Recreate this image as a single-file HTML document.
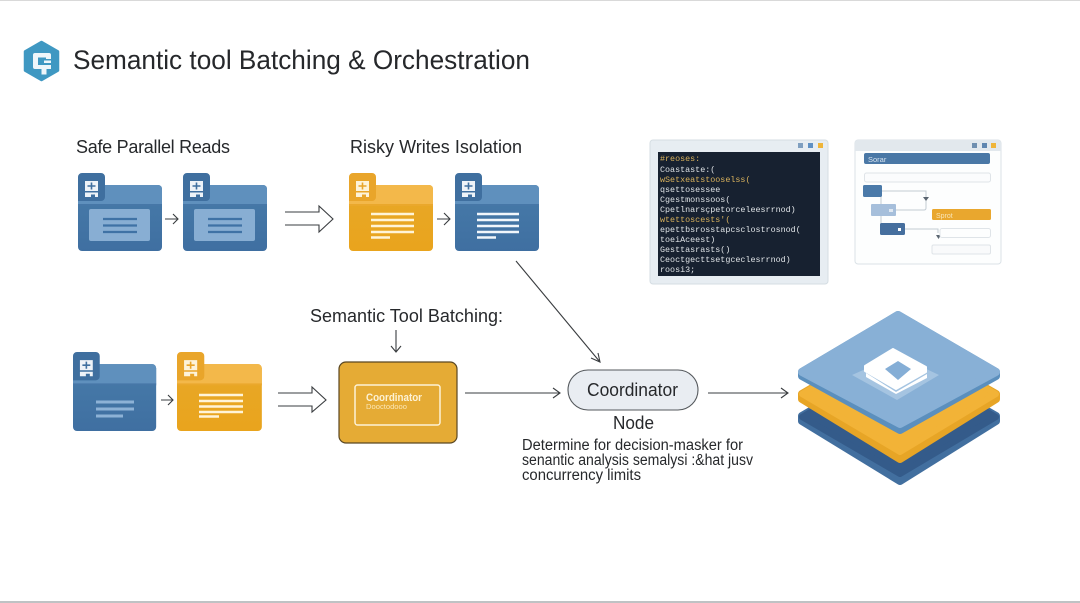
<!DOCTYPE html>
<html lang="en"><head><meta charset="utf-8"><title>Semantic tool Batching &amp; Orchestration</title>
<style>
html,body{margin:0;padding:0;background:#fff;width:1080px;height:603px;overflow:hidden}
svg{display:block;filter:blur(.3px)}
text{font-family:"Liberation Sans",sans-serif;fill:#26282b}
.m{font-family:"Liberation Mono",monospace;font-size:8.4px;fill:#dfe3e6}
.y{fill:#d9b25c}
.ln{stroke:#3a3d40;stroke-width:1.1;fill:none}
.r{stroke-width:8;stroke-linejoin:round}
</style></head><body>
<svg width="1080" height="603" viewBox="0 0 1080 603" xmlns="http://www.w3.org/2000/svg">
<defs>
<linearGradient id="b" x1="0" y1="0" x2="0" y2="1"><stop offset="0" stop-color="#477ba9"/><stop offset="1" stop-color="#3f6fa1"/></linearGradient>
<linearGradient id="a" x1="0" y1="0" x2="0" y2="1"><stop offset="0" stop-color="#e8a828"/><stop offset="1" stop-color="#e9a41d"/></linearGradient>
<g id="blue">
<rect x="0" y="12" width="84" height="66" rx="4" fill="url(#b)"/>
<path d="M0 32V16a4 4 0 0 1 4-4H80a4 4 0 0 1 4 4V32Z" fill="#5f90bd"/>
<path d="M0 32V4a4 4 0 0 1 4-4H23a4 4 0 0 1 4 4V24a4 4 0 0 1-4 4H0Z" fill="#3f6f9f"/>
<rect x="0" y="31" width="84" height="2" fill="#4677a7"/>
<path d="M7 8H20V18H7Z M7 19.500H20V24H17V21.500H13V24H7Z" fill="#eef3f8"/>
<path d="M13.500 9.500V16.500M9.500 13H17.500" stroke="#3f6f9f" stroke-width="1.6"/>
</g>
<g id="amber">
<rect x="0" y="12" width="84" height="66" rx="4" fill="url(#a)"/>
<path d="M0 32V16a4 4 0 0 1 4-4H80a4 4 0 0 1 4 4V32Z" fill="#f3b84a"/>
<path d="M0 32V4a4 4 0 0 1 4-4H23a4 4 0 0 1 4 4V24a4 4 0 0 1-4 4H0Z" fill="#e9a52a"/>
<rect x="0" y="31" width="84" height="2" fill="#eaa82c"/>
<path d="M7 8H20V18H7Z M7 19.500H20V24H17V21.500H13V24H7Z" fill="#fdf3da"/>
<path d="M13.500 9.500V16.500M9.500 13H17.500" stroke="#e9a52a" stroke-width="1.6"/>
</g>
</defs>
<rect width="1080" height="603" fill="#fff"/>
<rect width="1080" height="1" fill="#d9d9d9"/>
<rect y="601" width="1080" height="2" fill="#bfc2c4"/>

<!-- logo -->
<path d="M41.5 42 L58 51.500V70.500L41.5 80 25 70.500V51.500Z" fill="#3f98c2" stroke="#3f98c2" stroke-width="2.500" stroke-linejoin="round"/>
<path d="M35 53H49a2 2 0 0 1 2 2V59H46V57.500H38V65H51V69H46.500V74.500H41.500V69H35a2 2 0 0 1-2-2V55a2 2 0 0 1 2-2Z" fill="#eef6fa"/>
<rect x="44" y="60.500" width="7" height="2.500" fill="#eef6fa"/>

<text x="73" y="69" font-size="27" textLength="457" lengthAdjust="spacingAndGlyphs">Semantic tool Batching &amp; Orchestration</text>
<text x="76" y="153" font-size="18" textLength="154" lengthAdjust="spacing">Safe Parallel Reads</text>
<text x="350" y="153" font-size="18" textLength="172" lengthAdjust="spacing">Risky Writes Isolation</text>
<text x="310" y="322" font-size="18" textLength="193" lengthAdjust="spacing">Semantic Tool Batching:</text>

<!-- top row -->
<use href="#blue" x="78" y="173"/>
<rect x="89" y="209" width="61" height="32" rx="2" fill="#88aed3"/>
<path d="M103 219H137M103 225.500H137M103 232H137" stroke="#3f72a5" stroke-width="2.200"/>
<use href="#blue" x="183" y="173"/>
<rect x="194" y="209" width="61" height="32" rx="2" fill="#88aed3"/>
<path d="M208 219H242M208 225.500H242M208 232H242" stroke="#3f72a5" stroke-width="2.200"/>
<path class="ln" d="M165 219H178M173 214l5 5-5 5"/>
<path class="ln" d="M285 212H319V206L333 219 319 232V225H285"/>

<use href="#amber" x="349" y="173"/>
<path d="M371 214H414M371 220H414M371 226H414M371 232H414M371 237.500H390" stroke="#fff4d8" stroke-width="2.400"/>
<use href="#blue" x="455" y="173"/>
<path d="M477 214H519M477 220H519M477 226H519M477 232H519M477 237.500H496" stroke="#f1f6fb" stroke-width="2.400"/>
<path class="ln" d="M437 219H450M444 213l6 6-6 6"/>

<!-- bottom row -->
<use href="#blue" transform="translate(73 352) scale(.99 1.013)"/>
<path d="M96 402H134M96 409H134M96 416H123" stroke="#8db2d6" stroke-width="3"/>
<use href="#amber" transform="translate(177 352) scale(1.01 1.013)"/>
<path d="M199 395H243M199 401H243M199 406.500H243M199 412H243M199 416.500H219" stroke="#fff4d8" stroke-width="2.400"/>
<path class="ln" d="M161 400H173M168 395l5 5-5 5"/>
<path class="ln" d="M278 393H312V387L326 400 312 412V406H278"/>

<!-- coordinator box -->
<path class="ln" d="M396 330V352M391 346l5 6 5-6"/>
<rect x="339" y="362" width="118" height="81" rx="7" fill="#e5ab35" stroke="#5a4722" stroke-width="1.200"/>
<rect x="355" y="385" width="85" height="40" rx="2.500" fill="none" stroke="#fdf2d5" stroke-width="1.500"/>
<text x="366" y="401" font-size="11" font-weight="bold" style="fill:#fdf2d5" textLength="56" lengthAdjust="spacingAndGlyphs">Coordinator</text>
<text x="366" y="409" font-size="7.500" style="fill:#fbe7b6" textLength="41" lengthAdjust="spacingAndGlyphs">Dooctodooo</text>

<!-- connectors -->
<path class="ln" d="M465 393H560M553 388l7 5-7 5"/>
<path class="ln" d="M516 261L600 362M591 358l9 4-2-9"/>
<path class="ln" d="M708 393H788M781 388l7 5-7 5"/>

<!-- node -->
<rect x="568" y="370" width="130" height="40" rx="20" fill="#e9edf2" stroke="#55595d" stroke-width="1.100"/>
<text x="587" y="396" font-size="18" textLength="91" lengthAdjust="spacingAndGlyphs">Coordinator</text>
<text x="613" y="429" font-size="18" textLength="41" lengthAdjust="spacingAndGlyphs">Node</text>
<text x="522" y="450" font-size="15.500" textLength="221" lengthAdjust="spacingAndGlyphs">Determine for decision-masker for</text>
<text x="522" y="465" font-size="15.500" textLength="231" lengthAdjust="spacingAndGlyphs">senantic analysis semalysi :&amp;hat jusv</text>
<text x="522" y="480" font-size="15.500" textLength="119" lengthAdjust="spacingAndGlyphs">concurrency limits</text>

<!-- code window -->
<rect x="650" y="140" width="178" height="144" rx="3" fill="#e7edf2" stroke="#d5dde3"/>
<rect x="798" y="143" width="5" height="5" fill="#7f9fc0"/><rect x="808" y="143" width="5" height="5" fill="#5f90c4"/><rect x="818" y="143" width="5" height="5" fill="#efb53a"/>
<rect x="658" y="152" width="162" height="124" fill="#172130"/>
<text class="m y" x="660" y="161">#reoses:</text>
<text class="m" x="660" y="172">Coastaste:(</text>
<text class="m y" x="660" y="182">wSetxeatstooselss(</text>
<text class="m" x="660" y="192">qsettosessee</text>
<text class="m" x="660" y="202">Cgestmonssoos(</text>
<text class="m" x="660" y="212">Cpetlnarsçpetorceleesrrnod)</text>
<text class="m y" x="660" y="222">wtettoscests'(</text>
<text class="m" x="660" y="232">epettbsrosstapcsclostrosnod(</text>
<text class="m" x="660" y="242">toeiAceest)</text>
<text class="m" x="660" y="252">Gesttasrasts()</text>
<text class="m" x="660" y="262">Ceoctgecttsetgceclesrrnod)</text>
<text class="m" x="660" y="272">roosi3;</text>

<!-- flow window -->
<rect x="855" y="140" width="146" height="124" rx="3" fill="#fdfefe" stroke="#dbe2e7"/>
<path d="M855 151V143a3 3 0 0 1 3-3H998a3 3 0 0 1 3 3V151H855Z" fill="#e2e8ed"/>
<rect x="972" y="143" width="5" height="5" fill="#6f8fb0"/><rect x="982" y="143" width="5" height="5" fill="#5f86b0"/><rect x="991" y="143" width="5" height="5" fill="#efb53a"/>
<rect x="864" y="153" width="126" height="11" rx="2" fill="#4a78a6"/>
<text x="868" y="162" font-size="7.500" style="fill:#d7e4f0">Sorar</text>
<rect x="864.500" y="173" width="126" height="9" rx="2" fill="#fbfcfd" stroke="#dfe4e8"/>
<path d="M882 191H926V208Q926 210 924 210H896M881 197V204M881 216V223M905 229H938V233" fill="none" stroke="#c3ccd3" stroke-width="1"/>
<path d="M923 197l3 4 3-4ZM936 235l2.500 4 2.500-4Z" fill="#5a6570"/>
<rect x="863" y="185" width="19" height="12" rx="1.500" fill="#4b7aa9"/>
<rect x="871" y="204" width="25" height="12" rx="1" fill="#a6bfdb"/>
<rect x="880" y="223" width="25" height="12" rx="1.500" fill="#466f9e"/>
<rect x="889" y="209" width="4" height="3" fill="#eef3f8" opacity=".8"/>
<rect x="898" y="228" width="3" height="3" fill="#fff"/>
<rect x="932" y="209" width="59" height="11" rx="1.500" fill="#e9a72e"/>
<text x="936" y="218" font-size="7" style="fill:#f8e4b5">Sprot</text>
<rect x="940" y="228.500" width="50.500" height="9" rx="2" fill="#fdfefe" stroke="#dfe4e8"/>
<rect x="932" y="245" width="58.500" height="9" rx="1.500" fill="#f9fafb" stroke="#dfe4e8"/>

<!-- stack -->
<path class="r" d="M802 416V421L900 481 996 421V416L898 360Z" fill="#426f9f" stroke="#426f9f"/>
<path class="r" d="M802 417L900 474 996 417 898 360Z" fill="#345b8a" stroke="#345b8a" style="stroke-width:6"/>
<path class="r" d="M802 394V399L900 459 996 399V394L898 338Z" fill="#e7a526" stroke="#e7a526"/>
<path class="r" d="M802 394L900 452 996 394 898 338Z" fill="#f2b337" stroke="#f2b337" style="stroke-width:6"/>
<path class="r" d="M802 372V376L900 430 996 376V372L898 315Z" fill="#5b8fbd" stroke="#5b8fbd"/>
<path class="r" d="M802 372L900 424 996 372 898 315Z" fill="#88b0d6" stroke="#88b0d6"/>
<path d="M852 375L897 355 939 375 897 400Z" fill="#a5c4e1"/>
<path d="M866 373L896 392 927 374V378L896 394 866 377Z" fill="#fff"/>
<path d="M865 366L893 349 926 367V372L896 389 865 371Z" fill="#fff" stroke="#fff" stroke-width="2" stroke-linejoin="round"/>
<path d="M885 369L898 361 911 369 898 380Z" fill="#85aed6"/>
</svg>
</body></html>
